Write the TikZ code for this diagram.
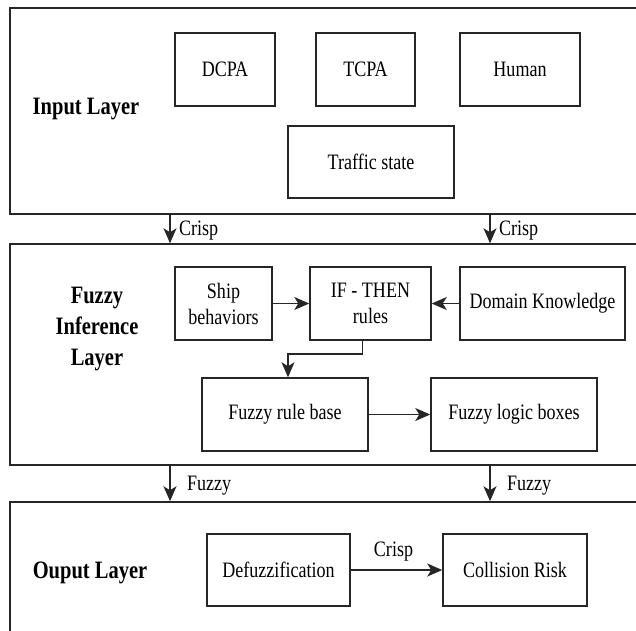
\documentclass[tikz,border=0pt]{standalone}
\usepackage{fontspec}
\setmainfont[FakeStretch=0.82]{Liberation Serif}
\usetikzlibrary{arrows.meta}

\begin{document}
\begin{tikzpicture}[x=1pt, y=-1pt,
    line width=1.5pt, draw=black!85,
    layer/.style={draw, minimum width=640pt, inner sep=0pt},
    blk/.style={draw, minimum height=73pt, inner sep=0pt, align=center,
        font=\fontsize{22}{26}\selectfont},
    title/.style={align=center, font=\fontsize{25}{31}\selectfont\bfseries},
    lbl/.style={font=\fontsize{22}{26}\selectfont},
    arr/.style={-{Stealth[length=15pt,width=13pt,inset=4pt]}}]

\useasboundingbox (0,0) rectangle (636,630);
\clip (0,0) rectangle (636,630);

% Layers
\node[layer, minimum height=206pt] (inlayer) at (330,111) {};
\node[layer, minimum height=221pt] (fuzlayer) at (330,354.5) {};
\node[layer, minimum height=148pt] (outlayer) at (330,576) {};

\node[title] (intitle) at (86,109) {Input Layer};
\node[title] (fuztitle) at (97,329) {Fuzzy\\Inference\\Layer};
\node[title] (outtitle) at (90,573) {Ouput Layer};

% Input layer
\node[blk, minimum width=100pt] (dcpa) at (225,69.5) {DCPA};
\node[blk, minimum width=99pt] (tcpa) at (365.5,69.5) {TCPA};
\node[blk, minimum width=120pt] (human) at (520,69.5) {Human};
\node[blk, minimum width=166pt, minimum height=72pt] (traffic) at (371,162) {Traffic state};

% Fuzzy inference layer
\node[blk, minimum width=97pt] (ship) at (223.5,303.5) {Ship\\behaviors};
\node[blk, minimum width=121pt] (ifthen) at (370.5,303.5) {IF - THEN\\rules};
\node[blk, minimum width=165pt] (domain) at (542.5,303.5) {Domain Knowledge};
\node[blk, minimum width=166pt] (rulebase) at (285,414.5) {Fuzzy rule base};
\node[blk, minimum width=166pt] (logic) at (514,414.5) {Fuzzy logic boxes};

% Output layer
\node[blk, minimum width=143pt, minimum height=72pt] (defuzz) at (278.5,570) {Defuzzification};
\node[blk, minimum width=144pt, minimum height=72pt] (risk) at (515,570) {Collision Risk};

% Connections
\draw[arr] (ship.east) -- (ifthen.west);
\draw[arr] (domain.west) -- (ifthen.east);
\draw[arr] ([xshift=-8pt]ifthen.south) -- ++(0,13) -| ([xshift=3pt]rulebase.north);
\draw[arr] (rulebase.east) -- (logic.west);
\draw[arr] (defuzz.east) -- node[lbl, above=5pt, xshift=-3pt] {Crisp} (risk.west);

% Between layers
\draw[arr] (inlayer.south -| 170,0) -- node[lbl, right=5pt, yshift=-2pt] {Crisp} (fuzlayer.north -| 170,0);
\draw[arr] (inlayer.south -| 490,0) -- node[lbl, right=5pt, yshift=-2pt] {Crisp} (fuzlayer.north -| 490,0);
\draw[arr] (fuzlayer.south -| 170,0) -- node[lbl, right=13pt, yshift=-2pt] {Fuzzy} (outlayer.north -| 170,0);
\draw[arr] (fuzlayer.south -| 490,0) -- node[lbl, right=13pt, yshift=-2pt] {Fuzzy} (outlayer.north -| 490,0);

\end{tikzpicture}
\end{document}
